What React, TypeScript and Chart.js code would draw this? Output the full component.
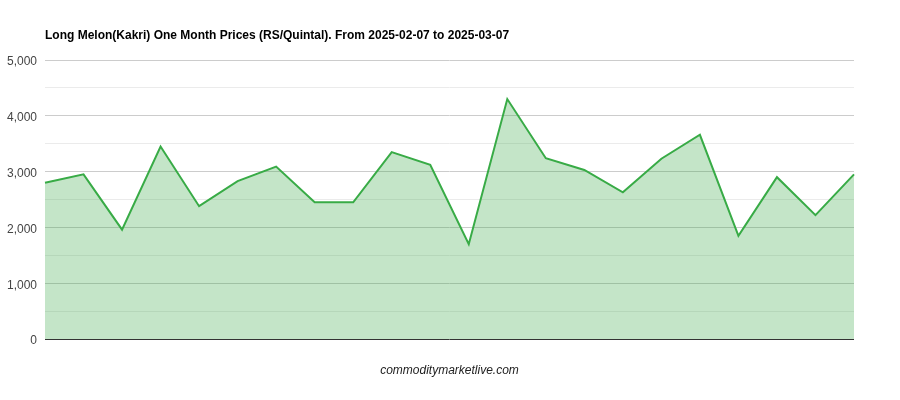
import React, { useEffect, useRef } from "react";
import { Chart, registerables } from "chart.js";

Chart.register(...registerables);

const titleText = "Long Melon(Kakri) One Month Prices (RS/Quintal). From 2025-02-07 to 2025-03-07";
const footerText = "commoditymarketlive.com";

const dates = [
  "2025-02-07", "2025-02-08", "2025-02-10", "2025-02-11", "2025-02-12", "2025-02-13",
  "2025-02-14", "2025-02-15", "2025-02-17", "2025-02-18", "2025-02-19", "2025-02-20",
  "2025-02-21", "2025-02-22", "2025-02-24", "2025-02-25", "2025-02-27", "2025-02-28",
  "2025-03-03", "2025-03-04", "2025-03-05", "2025-03-07",
];

const prices = [
  2800, 2950, 1960, 3450, 2380, 2830, 3090, 2450, 2450, 3350, 3120,
  1700, 4300, 3240, 3030, 2630, 3230, 3660, 1850, 2900, 2220, 2950,
];

const yMin = 0;
const yMax = 5000;
const yStep = 500;

export default function App() {
  const ref = useRef<HTMLCanvasElement | null>(null);

  useEffect(() => {
    document.body.style.margin = "0";
    const canvas = ref.current;
    if (!canvas) return;

    const textPlugin = {
      id: "textPlugin",
      afterDraw(chart: any) {
        const { ctx, chartArea } = chart;
        ctx.save();
        ctx.fillStyle = "#000";
        ctx.font = "bold 12px Arial, 'Liberation Sans', sans-serif";
        ctx.textAlign = "left";
        ctx.textBaseline = "middle";
        ctx.fillText(titleText, chartArea.left, 36);
        ctx.fillStyle = "#222";
        ctx.font = "italic 12px Arial, 'Liberation Sans', sans-serif";
        ctx.textAlign = "center";
        ctx.fillText(footerText, (chartArea.left + chartArea.right) / 2, 371);
        ctx.restore();
      },
    };

    const chart = new Chart(canvas, {
      type: "line",
      data: {
        labels: dates,
        datasets: [
          {
            data: prices,
            borderColor: "#38ab46",
            backgroundColor: "rgba(58,170,72,0.3)",
            borderWidth: 2,
            fill: "origin",
            tension: 0,
            pointRadius: 0,
            pointHoverRadius: 0,
          },
        ],
      },
      options: {
        animation: false,
        responsive: false,
        layout: { padding: { top: 60, bottom: 61, right: 46, left: 0 } },
        plugins: {
          legend: { display: false },
          title: { display: false },
          tooltip: { enabled: false },
        },
        scales: {
          x: {
            display: false,
            offset: false,
          },
          y: {
            min: yMin,
            max: yMax,
            afterFit(axis: any) {
              axis.width = 45;
            },
            border: { display: false },
            grid: {
              drawTicks: false,
              color: (c: any) => {
                const v = c.tick ? c.tick.value : 0;
                if (v === 0) return "#333";
                if (v % 1000 === 0) return "#cccccc";
                return "#ebebeb";
              },
              lineWidth: 1,
            },
            ticks: {
              stepSize: yStep,
              padding: 8,
              labelOffset: 2,
              color: "#444",
              font: { family: "Arial, 'Liberation Sans', sans-serif", size: 12 },
              callback: (v: any) => (Number(v) % 1000 === 0 ? Number(v).toLocaleString("en-US") : ""),
            },
          },
        },
      },
      plugins: [textPlugin],
    });

    return () => chart.destroy();
  }, []);

  return (
    <div style={{ width: 900, height: 400 }}>
      <canvas ref={ref} width={900} height={400} />
    </div>
  );
}
